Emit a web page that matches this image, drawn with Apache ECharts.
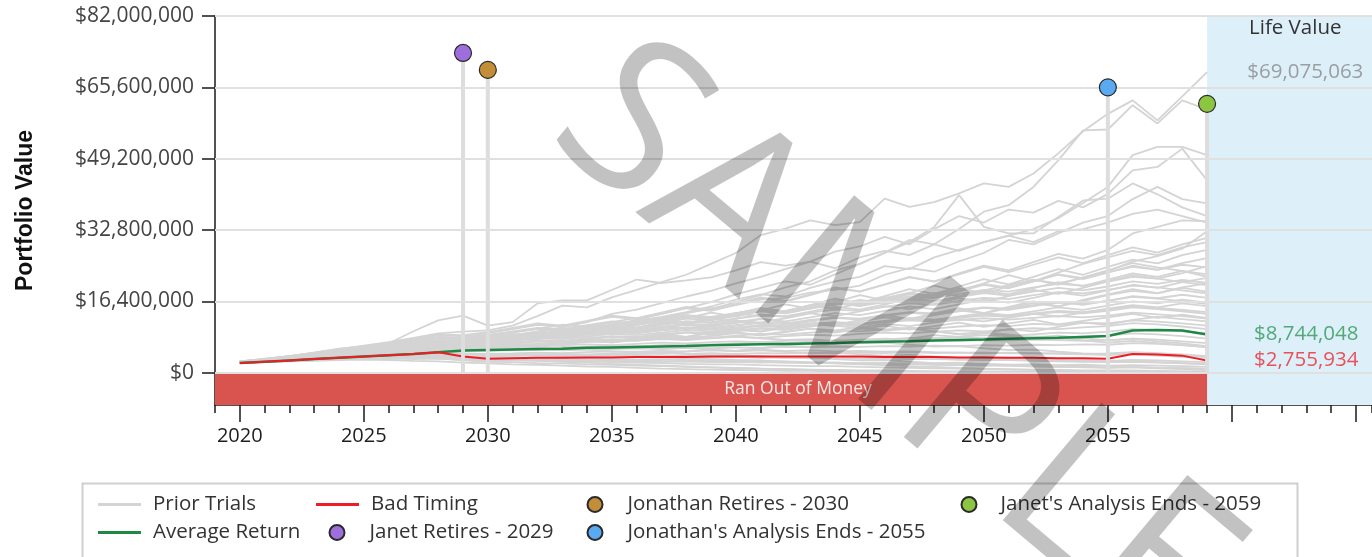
<!DOCTYPE html>
<html>
<head>
<meta charset="utf-8">
<script src="https://cdn.jsdelivr.net/npm/echarts@6/dist/echarts.min.js"></script>
<style>
  html, body { margin: 0; padding: 0; background: #ffffff; }
  #chart { width: 1372px; height: 557px; }
</style>
</head>
<body>
<div id="chart"></div>
<script>
// ---- Data (portfolio values in millions of dollars) ----
const YEARS = [2020,2021,2022,2023,2024,2025,2026,2027,2028,2029,
               2030,2031,2032,2033,2034,2035,2036,2037,2038,2039,
               2040,2041,2042,2043,2044,2045,2046,2047,2048,2049,
               2050,2051,2052,2053,2054,2055,2056,2057,2058,2059];

const Y_TICKS = [0, 16.4, 32.8, 49.2, 65.6, 82];
const X_LABEL_YEARS = [2020, 2025, 2030, 2035, 2040, 2045, 2050, 2055];
const X_MAJOR_TICKS = [2020, 2025, 2030, 2035, 2040, 2045, 2050, 2055, 2060, 2065];

const AVERAGE_RETURN = [2.2,2.5,2.8,3.1,3.4,3.7,4.0,4.3,4.7,5.1,
                        5.2,5.3,5.4,5.5,5.7,5.8,5.9,6.0,6.1,6.3,
                        6.4,6.5,6.6,6.7,6.8,7.0,7.1,7.2,7.4,7.5,
                        7.6,7.8,7.9,8.0,8.2,8.4,9.7,9.8,9.7,8.744048];

const BAD_TIMING = [2.2,2.5,2.8,3.1,3.4,3.7,4.0,4.3,4.7,3.7,
                    3.2,3.3,3.4,3.4,3.5,3.5,3.6,3.6,3.6,3.7,
                    3.7,3.7,3.7,3.7,3.7,3.7,3.6,3.6,3.6,3.5,
                    3.5,3.4,3.4,3.3,3.3,3.2,4.3,4.15,3.9,2.755934];

// Trials that finish far above the rest
const TRIALS_UPPER = [
  [2.4,3.0,3.8,4.6,5.4,6.2,7.0,8.0,9.0,9.4, 9.7,10.8,13.0,15.4,15.0,17.3,19.0,20.8,22.5,25.0, 27.5,31.6,33.1,35.0,33.9,34.6,40.0,38.1,39.2,41.2, 43.5,42.7,45.8,50.4,55.5,59.5,62.6,58.0,63.5,69.075063],
  [2.3,2.6,3.0,3.3,3.7,4.1,4.6,5.0,5.6,6.1, 6.8,7.4,8.0,8.9,9.6,10.5,11.6,12.4,13.8,14.6, 16.2,17.8,19.6,21.0,23.5,25.0,27.6,30.5,29.5,33.0, 37.0,38.5,42.7,48.8,55.7,55.9,61.5,57.3,62.6,60.5],
  [2.4,2.8,3.3,3.9,4.6,5.6,6.7,9.5,12.0,13.1, 10.8,11.6,15.9,16.6,16.6,19.0,21.4,20.6,21.2,21.9, 23.5,25.4,24.6,25.5,27.8,29.0,31.2,29.5,33.0,36.0, 34.5,37.5,36.8,39.5,38.0,41.1,46.5,47.3,51.5,44.2],
  [2.5,2.9,3.3,3.8,4.2,4.8,5.3,5.9,6.4,7.0, 7.6,8.1,8.9,9.6,10.3,11.0,11.9,12.8,13.9,15.2, 16.8,18.0,17.5,19.5,21.0,22.0,24.5,23.8,26.5,28.2, 30.0,31.5,33.0,35.5,39.0,42.7,50.0,51.9,51.9,50.0],
  [2.3,2.7,3.1,3.5,3.9,4.4,4.9,5.5,6.0,6.6, 7.1,7.8,8.5,9.2,10.0,11.0,12.1,13.5,14.8,16.2, 18.0,19.5,21.0,20.2,22.6,25.0,27.5,30.0,33.5,40.8, 33.5,32.0,32.0,35.8,39.6,40.0,43.5,41.0,38.0,36.0],
  [2.5,2.9,3.4,3.9,4.5,5.0,5.6,6.2,6.9,7.3, 7.9,8.6,9.5,10.4,11.6,13.5,14.5,16.0,17.5,18.8, 20.5,22.0,23.8,25.5,24.0,26.5,28.0,27.0,29.5,28.0, 30.0,31.5,30.0,32.5,33.0,34.5,36.5,37.5,36.0,34.5],
  [2.4,2.8,3.2,3.6,4.1,4.6,5.1,5.7,6.3,6.9, 7.4,8.0,8.7,9.3,10.1,10.8,11.7,12.5,13.6,14.8, 15.5,16.8,17.2,18.4,19.0,20.0,22.5,24.0,23.2,25.6, 27.5,30.5,29.5,32.0,34.5,36.0,39.9,42.7,39.9,38.9]
];

// Trials in the main body of the fan
const TRIALS_MAIN = [
  [2.2,2.4,2.6,2.7,2.9,3.0,2.9,2.7,2.6,2.3, 2.1,1.9,1.8,1.6,1.4,1.3,1.1,0.9,0.8,0.7, 0.6,0.5,0.4,0.4,0.3,0.3,0.2,0.2,0.2,0.1, 0.1,0.1,0.1,0.1,0.1,0.1,0.1,0.1,0.1,0.1],
  [2.3,2.5,2.8,3.0,3.1,3.3,3.5,3.4,3.5,3.1, 2.9,2.9,2.7,2.6,2.6,2.4,2.3,2.2,2.0,1.9, 1.9,1.7,1.6,1.5,1.5,1.3,1.2,1.1,1.0,0.9, 0.8,0.7,0.7,0.6,0.5,0.5,0.5,0.4,0.3,0.3],
  [2.3,2.6,2.9,3.2,3.4,3.6,3.8,4.0,4.1,3.7, 3.4,3.5,3.3,3.4,3.2,3.1,3.0,3.1,2.9,2.8, 2.8,2.6,2.6,2.4,2.3,2.2,2.2,2.0,1.9,1.8, 1.7,1.6,1.5,1.4,1.3,1.2,1.3,1.1,1.0,0.8],
  [2.2,2.5,2.7,3.0,3.3,3.5,3.8,3.7,3.9,3.8, 3.7,3.9,4.0,3.8,3.9,4.1,3.9,3.8,3.9,3.7, 3.6,3.7,3.5,3.4,3.5,3.3,3.2,3.3,3.1,3.0, 2.9,2.9,2.7,2.6,2.5,2.4,2.5,2.3,2.1,1.9],
  [2.4,2.6,3.0,3.2,3.6,3.9,4.2,4.5,4.8,4.4, 4.3,4.4,4.6,4.5,4.7,4.9,4.8,5.0,4.9,5.1, 5.0,5.2,5.0,5.1,4.9,5.0,4.8,4.9,4.7,4.6, 4.6,4.4,4.5,4.3,4.2,4.1,4.4,4.2,3.9,3.6],
  [2.3,2.7,3.1,3.5,3.8,4.1,4.5,4.9,5.2,5.0, 5.1,5.4,5.2,5.6,5.9,5.8,6.1,6.0,6.3,6.5, 6.4,6.7,6.6,6.9,7.1,7.0,7.3,7.2,7.4,7.3, 7.5,7.4,7.6,7.5,7.3,7.4,7.8,7.6,7.2,6.8],
  [2.4,2.8,3.3,3.7,4.1,4.4,4.9,5.4,5.9,5.7, 5.9,6.3,6.6,6.5,7.0,7.4,7.3,7.8,8.2,8.0, 8.5,8.9,8.7,9.2,9.6,9.5,9.9,10.3,10.1,10.6, 10.9,10.7,11.2,11.0,11.5,11.3,12.0,11.7,11.3,10.8],
  [2.5,2.9,3.3,3.8,4.3,4.7,5.2,5.8,6.4,6.3, 6.6,7.0,7.4,7.3,7.9,8.4,8.2,8.8,9.3,9.1, 9.7,10.2,10.0,10.7,11.2,11.0,11.6,12.2,11.9,12.6, 13.1,12.8,13.5,13.9,13.6,14.2,15.0,14.6,14.1,13.5],
  [2.3,2.8,3.4,3.9,4.4,4.9,5.5,6.1,6.8,6.7, 7.1,7.6,8.1,8.0,8.7,9.3,9.1,9.8,10.4,10.2, 10.9,11.5,11.3,12.1,12.7,12.4,13.2,13.9,13.6,14.4, 15.0,14.7,15.5,16.1,15.8,16.5,17.4,17.0,16.4,15.8],
  [2.6,3.1,3.7,4.3,4.9,5.4,6.1,6.8,7.5,7.4, 7.9,8.5,9.1,9.0,9.8,10.5,10.3,11.1,11.8,11.6, 12.4,13.1,12.9,13.8,14.5,14.2,15.1,15.9,15.6,16.5, 17.2,16.9,17.8,18.5,18.2,19.0,20.0,19.6,18.9,18.2],
  [2.5,3.1,3.8,4.5,5.1,5.7,6.4,7.2,8.0,8.0, 8.6,9.3,10.0,9.8,10.7,11.5,11.2,12.1,12.9,12.7, 13.6,14.4,14.1,15.1,15.9,15.6,16.6,17.5,17.1,18.1, 19.0,18.6,19.6,20.4,20.0,20.9,22.0,21.6,20.8,20.1],
  [2.4,3.0,3.6,4.2,4.8,5.3,5.9,6.5,7.2,7.0, 7.5,8.2,8.9,9.7,9.3,10.2,11.0,11.9,11.4,12.4, 13.2,14.2,13.6,14.7,15.6,16.7,16.0,17.2,18.3,17.6, 18.9,20.1,21.3,20.5,21.8,23.1,24.3,23.6,24.8,24.2],
  [2.3,2.6,3.2,3.0,3.6,4.2,4.0,4.7,5.4,5.0, 5.8,6.4,5.9,6.8,7.6,7.0,8.0,8.9,8.2,9.3, 10.3,9.5,10.7,11.8,10.9,12.1,13.3,12.3,13.6,14.8, 13.7,15.1,16.4,15.2,16.7,18.0,19.2,18.3,19.6,20.5],
  [2.5,3.0,3.7,4.5,4.2,5.1,6.0,5.6,6.7,7.4, 7.0,8.1,9.2,8.6,9.8,11.0,10.3,11.6,12.9,12.1, 13.5,14.9,14.0,15.5,17.0,16.0,17.6,19.2,18.1,19.8, 21.5,20.3,22.0,23.8,22.5,24.3,26.0,25.1,27.0,28.2],
  [2.4,2.9,3.5,4.1,4.8,5.5,5.1,5.9,6.8,7.7, 7.2,8.2,9.2,10.3,9.6,10.8,12.0,11.2,12.5,13.8, 12.9,14.3,15.7,14.7,16.2,17.8,16.6,18.3,20.0,18.7, 20.5,22.4,21.0,23.0,25.0,26.5,28.0,27.0,28.8,30.0],
  [2.3,2.8,3.4,4.0,4.7,5.4,6.2,7.0,7.9,7.7, 8.3,9.2,10.1,11.0,10.5,11.6,12.6,12.0,13.1,12.5, 11.6,12.4,11.5,10.7,11.4,10.5,9.8,10.3,9.5,8.8, 9.2,8.4,7.8,8.1,7.4,6.9,7.3,6.8,6.3,5.8],
  [2.4,2.7,3.0,3.3,3.6,3.4,3.2,3.5,3.3,3.1, 2.9,3.2,3.5,3.3,3.7,4.1,4.5,4.3,4.8,5.3, 5.0,5.6,6.2,5.9,6.6,7.3,7.0,7.8,8.6,8.2, 9.1,10.0,9.5,10.5,11.5,11.0,12.1,12.8,12.3,11.8],
  [2.3,2.6,3.0,3.4,3.9,4.3,4.8,5.3,5.8,5.6, 6.0,6.6,6.3,6.9,7.5,7.2,7.9,8.6,8.2,9.0, 9.8,9.4,10.3,11.2,10.7,11.7,12.7,12.1,13.2,14.3, 13.6,14.8,16.0,15.2,16.5,17.8,18.8,18.2,19.5,18.6],
  [2.4,2.8,3.3,3.8,4.2,4.6,5.1,5.6,6.2,5.9, 6.3,6.0,6.5,6.1,5.8,6.2,5.8,5.4,5.7,5.3, 4.9,5.2,4.8,4.4,4.6,4.2,3.9,4.1,3.7,3.4, 3.5,3.2,2.9,3.0,2.7,2.5,2.6,2.4,2.2,2.0],
  [2.5,3.0,3.5,4.1,4.7,5.3,5.9,6.6,7.3,7.1, 7.6,8.3,9.0,8.7,9.5,10.4,10.0,10.9,11.8,11.4, 12.4,13.4,12.9,14.0,15.1,14.5,15.7,16.9,16.2,17.5, 18.8,18.0,19.4,20.8,19.9,21.4,22.8,22.0,23.4,22.6],
  [2.2,2.6,3.1,3.6,4.0,4.5,5.0,5.5,6.1,5.9, 6.2,6.8,7.3,7.0,7.6,8.2,7.9,8.5,9.2,8.8, 9.5,10.2,9.8,10.6,11.3,10.9,11.7,12.5,12.0,12.9, 13.7,13.2,14.1,15.0,14.4,15.4,16.4,15.9,16.8,16.1],
  [2.6,3.1,3.8,4.6,5.5,6.0,6.9,7.8,8.8,8.6, 9.3,10.3,11.3,10.8,11.9,13.1,12.5,13.8,15.1,14.4, 15.8,17.3,16.5,18.0,19.6,18.7,20.3,22.0,20.9,22.6, 24.3,23.1,24.8,26.5,25.2,27.0,28.8,27.6,29.5,31.0],
  [2.3,2.7,3.1,3.5,4.0,4.4,4.9,5.4,5.9,5.7, 6.0,6.5,6.2,6.7,7.3,7.0,7.6,8.2,7.8,8.4, 9.1,8.7,9.4,10.1,9.7,10.4,11.2,10.7,11.5,12.3, 11.8,12.6,13.5,12.9,13.8,14.7,15.5,15.0,15.9,15.3],
  [2.4,2.9,3.4,4.0,4.6,5.1,5.8,6.5,7.2,7.0, 7.5,8.2,8.9,8.6,9.3,10.1,9.7,10.5,11.3,10.9, 11.7,11.2,10.6,11.3,10.8,10.2,9.6,10.1,9.5,8.9, 9.3,8.7,8.1,8.5,7.9,7.4,7.8,7.2,6.7,6.1],
  [2.5,2.9,3.4,3.9,4.5,5.0,5.6,6.3,7.0,6.8, 7.3,8.0,7.7,8.4,9.2,8.8,9.6,10.5,10.1,11.0, 12.0,11.5,12.5,13.6,13.0,14.1,15.3,14.6,15.8,17.1, 16.3,17.6,19.0,18.1,19.5,21.0,22.4,21.6,22.9,24.5],
  [2.2,2.4,2.7,2.9,3.1,3.3,3.2,3.4,3.3,3.0, 2.8,2.9,2.8,2.7,2.8,2.6,2.7,2.5,2.6,2.4, 2.5,2.3,2.4,2.2,2.3,2.1,2.2,2.0,2.1,1.9, 2.0,1.8,1.9,1.7,1.8,1.6,1.7,1.6,1.5,1.3],
  [2.3,2.5,2.8,3.1,3.5,3.8,4.1,4.4,4.7,4.3, 4.1,4.3,4.1,4.3,4.2,4.4,4.2,4.4,4.3,4.5, 4.3,4.5,4.4,4.6,4.4,4.6,4.5,4.7,4.5,4.6, 4.4,4.6,4.4,4.5,4.3,4.4,4.7,4.5,4.2,3.8],
  [2.3,2.6,2.9,3.2,3.4,3.7,3.9,3.8,3.9,3.5, 3.2,3.0,2.8,2.5,2.3,2.0,1.8,1.6,1.4,1.2, 1.0,0.9,0.8,0.6,0.5,0.4,0.4,0.3,0.2,0.2, 0.2,0.1,0.1,0.1,0.1,0.1,0.1,0.1,0.1,0.1],
  [2.4,2.8,3.2,3.6,4.0,4.4,4.8,5.2,5.7,5.4, 5.3,5.5,5.8,5.6,5.9,6.2,6.0,6.3,6.6,6.4, 6.7,7.0,6.8,7.1,7.4,7.2,7.6,8.0,7.8,8.2, 8.6,8.4,8.8,9.2,9.0,9.4,10.0,9.8,9.5,9.0],
  [2.5,3.0,3.6,4.2,4.8,5.2,5.8,6.4,7.1,6.9, 7.3,7.9,8.6,8.3,9.0,9.8,9.4,10.2,11.0,10.6, 11.4,12.3,11.8,12.7,13.7,13.2,14.2,15.2,14.6,15.7, 16.8,16.1,17.2,18.4,17.7,18.9,20.2,19.5,20.8,21.8],
  [2.4,2.8,3.3,3.8,4.3,4.8,5.3,5.9,6.5,6.4, 6.8,7.3,7.9,7.7,8.3,8.9,8.6,9.2,9.8,9.5, 10.1,10.7,10.4,11.0,11.6,11.3,11.9,12.5,12.2,12.8, 13.4,13.0,13.6,14.2,13.9,14.5,15.3,14.9,14.4,13.9],
  [2.3,2.6,3.0,3.3,3.6,3.9,4.2,4.5,4.8,4.4, 4.2,4.3,4.1,4.0,3.8,3.9,3.6,3.5,3.3,3.1, 2.9,2.8,2.5,2.3,2.1,1.9,1.7,1.5,1.3,1.1, 0.9,0.8,0.6,0.5,0.4,0.3,0.3,0.2,0.2,0.1],
  [2.5,3.0,3.6,4.3,5.1,5.8,6.7,7.6,8.6,8.4, 9.1,10.0,11.0,10.6,11.7,12.8,12.3,13.5,14.8,14.2, 15.6,17.0,16.3,17.8,19.4,18.6,20.2,21.9,21.0,22.8, 24.6,23.5,25.4,27.3,26.2,28.2,32.0,33.5,35.0,34.8],
  [2.4,2.8,3.3,3.9,4.5,5.1,5.8,6.5,7.3,7.1, 7.7,8.4,9.2,9.0,9.9,10.8,10.4,11.4,12.4,12.0, 13.0,14.1,13.6,14.8,16.0,15.4,16.7,18.0,17.3,18.7, 20.2,19.4,21.0,22.6,21.7,23.4,25.5,26.8,28.5,32.5],
  [2.3,2.5,2.8,3.0,3.2,3.4,3.3,3.1,3.2,2.8, 2.5,2.4,2.2,2.1,1.9,1.8,1.6,1.5,1.3,1.2, 1.1,0.9,0.8,0.7,0.6,0.5,0.5,0.4,0.3,0.3, 0.2,0.2,0.2,0.1,0.1,0.1,0.1,0.1,0.1,0.1],
  [2.2,2.5,2.7,3.0,3.2,3.5,3.6,3.8,3.7,3.3, 3.1,3.2,3.0,3.1,2.9,2.8,2.9,2.7,2.6,2.6, 2.4,2.5,2.3,2.2,2.2,2.0,1.9,2.0,1.8,1.7, 1.6,1.6,1.4,1.3,1.3,1.2,1.3,1.1,1.0,0.9],
  [2.4,2.7,3.0,3.3,3.7,4.0,4.2,4.4,4.6,4.2, 4.0,3.9,4.0,3.8,3.9,3.7,3.8,3.6,3.7,3.5, 3.6,3.4,3.5,3.3,3.4,3.2,3.3,3.1,3.2,3.0, 3.1,2.9,3.0,2.8,2.9,2.7,2.9,2.8,2.6,2.4],
  [2.3,2.7,3.1,3.5,3.9,4.3,4.7,5.1,5.5,5.2, 5.0,5.2,5.4,5.3,5.5,5.4,5.6,5.5,5.7,5.6, 5.8,5.7,5.9,5.8,6.0,5.9,6.1,6.0,6.2,6.1, 6.3,6.2,6.4,6.3,6.5,6.4,6.8,6.6,6.3,5.9],
  [2.5,2.9,3.4,3.8,4.3,4.8,5.2,5.7,6.2,6.0, 6.2,6.6,6.4,6.9,7.2,7.0,7.4,7.7,7.5,7.9, 8.2,8.0,8.4,8.7,8.5,8.9,9.2,9.0,9.4,9.7, 9.5,9.9,10.2,10.0,10.4,10.7,11.4,11.1,10.6,10.0],
  [2.4,2.8,3.3,3.7,4.2,4.7,5.2,5.7,6.2,6.0, 6.3,6.7,7.1,6.9,7.3,7.7,7.5,7.9,8.2,8.0, 8.3,7.9,7.5,7.7,7.2,6.8,6.9,6.4,6.0,6.1, 5.6,5.2,5.3,4.8,4.4,4.1,4.3,3.9,3.6,3.2],
  [2.5,3.0,3.5,4.0,4.6,5.1,5.7,6.3,7.0,6.8, 7.2,7.8,8.4,8.1,8.8,9.4,9.1,9.8,10.4,10.1, 10.8,11.5,11.1,11.9,12.6,12.2,13.0,13.8,13.3,14.1, 14.9,14.4,15.3,16.2,15.6,16.5,17.6,17.1,17.9,17.2],
  [2.4,3.0,3.6,4.3,5.0,5.6,6.4,7.2,8.1,7.9, 8.5,9.3,10.1,9.7,10.6,11.5,11.0,12.0,13.0,12.5, 13.6,14.7,14.1,15.3,16.5,15.8,17.1,18.4,17.6,19.0, 20.4,19.5,21.0,22.5,21.5,23.0,24.6,23.7,25.2,26.3],
  [2.3,2.7,3.3,3.1,3.7,4.3,4.1,4.8,5.5,5.1, 5.8,6.5,6.0,6.8,7.5,6.9,7.7,8.4,7.7,8.5, 9.3,8.5,9.3,10.1,9.2,10.0,10.8,9.9,10.7,11.5, 10.5,11.3,12.1,11.1,11.9,12.7,13.5,12.6,13.3,12.5],
  [2.6,3.2,3.8,4.5,5.2,5.9,6.6,7.4,8.2,8.1, 8.7,9.5,10.3,10.0,10.9,11.8,11.4,12.3,13.2,12.8, 13.7,14.6,14.1,15.0,15.9,15.3,16.2,17.1,16.5,17.4, 18.3,17.7,18.6,19.5,18.9,19.8,21.0,20.4,21.3,20.6],
  [2.5,2.9,3.4,3.9,4.4,4.9,5.4,5.9,6.4,5.9, 5.6,5.8,5.4,5.1,5.3,4.9,4.6,4.7,4.3,4.0, 4.1,3.7,3.4,3.5,3.1,2.8,2.9,2.5,2.2,2.3, 1.9,1.7,1.8,1.4,1.2,1.1,1.2,1.0,0.8,0.6],
  [2.4,2.9,3.4,4.0,4.6,5.2,5.9,6.6,7.3,7.1, 7.5,8.1,8.6,8.4,8.9,9.5,9.2,9.7,10.2,9.9, 10.4,10.9,10.6,11.0,11.5,11.2,11.6,12.0,11.7,12.1, 12.5,12.2,12.6,13.0,12.7,13.1,13.8,13.4,13.0,12.4],
  [2.3,2.7,3.1,3.6,4.0,4.5,4.9,5.4,5.9,5.7, 5.9,6.2,6.0,6.3,6.5,6.3,6.6,6.9,6.7,7.0, 7.2,7.0,7.3,7.5,7.3,7.6,7.8,7.6,7.9,8.1, 7.9,8.1,8.3,8.1,8.3,8.5,9.0,8.8,8.4,7.8],
  [2.5,3.1,3.7,4.4,5.1,4.8,5.6,6.5,7.4,7.2, 8.0,8.9,8.4,9.4,10.4,9.8,10.9,12.0,11.3,12.5, 13.7,12.9,14.2,15.5,14.6,16.0,17.4,16.4,17.9,19.4, 18.2,19.8,21.4,20.2,21.9,23.5,25.2,24.2,23.4,22.0]
];

// Milestones: [name, year, marker height (millions), colour]
const MILESTONES = [
  ['Janet Retires - 2029', 2029, 73.5, '#9e6fdc'],
  ['Jonathan Retires - 2030', 2030, 69.6, '#c48d38'],
  ["Jonathan's Analysis Ends - 2055", 2055, 65.6, '#5aaaf2'],
  ["Janet's Analysis Ends - 2059", 2059, 61.8, '#8cc540']
];

// ---- Layout constants ----
const X_MIN = 2019, X_MAX = 2065.65;
const Y_MIN = -7.45, Y_MAX = 82;
const LIFE_START = 2059;
const FONT = '"Open Sans", "Noto Sans", sans-serif';

const money = v => '$' + Math.round(v * 1e6).toLocaleString('en-US');
const pairs = arr => arr.map((v, i) => [YEARS[i], v]);

const series = [];

// Light blue "Life Value" panel
series.push({
  type: 'line', name: 'panel', data: [], z: 0, silent: true,
  markArea: {
    silent: true,
    itemStyle: { color: '#ddf0fa' },
    data: [[{ xAxis: LIFE_START, yAxis: Y_MIN }, { xAxis: X_MAX, yAxis: Y_MAX }]]
  }
});

// Horizontal grid lines
series.push({
  type: 'line', name: 'grid', data: [], z: 1, silent: true,
  markLine: {
    silent: true, symbol: 'none', label: { show: false },
    lineStyle: { color: '#e0e0e0', width: 2, type: 'solid' },
    data: Y_TICKS.map(v => ({ yAxis: v }))
  }
});

// Prior trials
TRIALS_MAIN.concat(TRIALS_UPPER).forEach(t => {
  series.push({
    type: 'line', name: 'Prior Trials', data: pairs(t), z: 2,
    symbol: 'none', silent: true,
    itemStyle: { color: '#d4d4d4' },
    lineStyle: { color: '#d4d4d4', width: 1.8 }
  });
});

// Ran-out-of-money band
series.push({
  type: 'line', name: 'band', data: [], z: 2.5, silent: true,
  markArea: {
    silent: true,
    itemStyle: { color: '#d9534f' },
    label: {
      show: true, position: 'inside', offset: [87, 0], formatter: 'Ran Out of Money',
      color: '#f8e6e5', fontSize: 17.5, fontFamily: FONT
    },
    data: [[{ xAxis: X_MIN, yAxis: Y_MIN }, { xAxis: LIFE_START, yAxis: 0 }]]
  }
});

series.push({
  type: 'line', name: 'Average Return', data: pairs(AVERAGE_RETURN), z: 3,
  symbol: 'none', itemStyle: { color: '#1e8844' },
  lineStyle: { color: '#1e8844', width: 2.5 }
});
series.push({
  type: 'line', name: 'Bad Timing', data: pairs(BAD_TIMING), z: 3.1,
  symbol: 'none', itemStyle: { color: '#ee1c25' },
  lineStyle: { color: '#ee1c25', width: 2 }
});

// Milestone stems and markers
MILESTONES.forEach(([name, year, h, color]) => {
  series.push({
    type: 'line', name: name + ' stem', data: [[year, 0], [year, h]], z: 4,
    symbol: 'none', silent: true,
    lineStyle: { color: '#dddddd', width: 4 }
  });
  series.push({
    type: 'scatter', name: name, data: [[year, h]], z: 5,
    symbolSize: 17,
    itemStyle: { color: color, borderColor: '#2a2a2a', borderWidth: 1.2, opacity: 1 }
  });
});

// End-of-life values in the panel
const TOP_TRIAL_END = TRIALS_UPPER[0][TRIALS_UPPER[0].length - 1];
const AVG_END = AVERAGE_RETURN[AVERAGE_RETURN.length - 1];
const BAD_END = BAD_TIMING[BAD_TIMING.length - 1];
series.push({
  type: 'scatter', name: 'life values', z: 5, silent: true,
  symbolSize: 0,
  label: {
    show: true, position: 'left', distance: 0, fontSize: 20.5, fontFamily: FONT,
    formatter: p => money(p.value[1])
  },
  data: [
    { value: [2065.3, TOP_TRIAL_END], label: { color: '#8a8a8a' } },
    { value: [2065.1, AVG_END], label: { color: '#2f9656' } },
    { value: [2065.1, BAD_END], label: { color: '#ec2830' } }
  ]
});

// Legend entries, each placed on its own
function legendItem(name, left, top, icon, w, h, pad) {
  return {
    data: [{ name: name, icon: icon }],
    left: left, top: top, padding: 0,
    itemWidth: w, itemHeight: h, selectedMode: false,
    textStyle: { fontSize: 20.5, color: '#333333', fontFamily: FONT, padding: [0, 0, 0, pad] }
  };
}
const ROW1 = 494, ROW2 = 522;
const legends = [
  legendItem('Prior Trials', 98, ROW1, 'rect', 43, 3, 7),
  legendItem('Average Return', 98, ROW2, 'rect', 43, 3, 7),
  legendItem('Bad Timing', 316, ROW1, 'rect', 43, 3, 7),
  legendItem('Janet Retires - 2029', 328.5, ROW2, 'circle', 15, 15, 20),
  legendItem('Jonathan Retires - 2030', 586.5, ROW1, 'circle', 15, 15, 20),
  legendItem("Jonathan's Analysis Ends - 2055", 586.5, ROW2, 'circle', 15, 15, 20),
  legendItem("Janet's Analysis Ends - 2059", 960.5, ROW1, 'circle', 15, 15, 19)
];

const option = {
  animation: false,
  backgroundColor: '#ffffff',
  textStyle: { fontFamily: FONT },
  grid: { left: 215, right: 0, top: 16, bottom: 152, containLabel: false },
  legend: legends,
  xAxis: [
    {
      type: 'value', min: X_MIN, max: X_MAX, interval: 1,
      axisLine: { show: true, onZero: false, lineStyle: { color: '#1a1a1a', width: 1.5 } },
      axisTick: { show: true, length: 8, lineStyle: { color: '#1a1a1a', width: 1.5 } },
      axisLabel: { show: false },
      splitLine: { show: false }
    },
    {
      type: 'value', min: X_MIN, max: X_MAX, position: 'bottom',
      axisLine: { show: false, onZero: false },
      axisTick: { show: true, length: 17, customValues: X_MAJOR_TICKS, lineStyle: { color: '#1a1a1a', width: 1.5 } },
      axisLabel: {
        show: true, customValues: X_LABEL_YEARS, margin: 21,
        fontSize: 20, color: '#1e1e1e', fontFamily: FONT,
        formatter: v => String(v)
      },
      splitLine: { show: false }
    }
  ],
  yAxis: {
    type: 'value', min: Y_MIN, max: Y_MAX,
    name: 'Portfolio Value', nameLocation: 'middle', nameRotate: 90, nameGap: 178,
    nameTextStyle: { fontSize: 23, fontWeight: 'bold', color: '#111111', fontFamily: '"Liberation Sans", Arial, sans-serif' },
    axisLine: { show: true, onZero: false, lineStyle: { color: '#1a1a1a', width: 1.5 } },
    axisTick: { show: true, length: 13, customValues: Y_TICKS, lineStyle: { color: '#1a1a1a', width: 1.5 } },
    axisLabel: {
      show: true, customValues: Y_TICKS, margin: 21,
      fontSize: 21, color: '#444444', fontFamily: FONT,
      formatter: v => money(v)
    },
    splitLine: { show: false }
  },
  graphic: [
    {
      type: 'text', left: 1249, top: 18, z: 10,
      style: { text: 'Life Value', font: '20.5px ' + FONT, fill: '#333333' }
    },
    {
      type: 'rect', left: 80, top: 481, z: 10, silent: true,
      shape: { width: 1215, height: 120 },
      style: { fill: 'none', stroke: '#cfcfcf', lineWidth: 2 }
    },
    {
      type: 'text', x: 894, y: 349, rotation: -40 * Math.PI / 180, z: 100, silent: true,
      style: {
        text: 'SAMPLE', font: '215px ' + FONT, fill: 'rgba(0,0,0,0.24)',
        align: 'center', verticalAlign: 'middle'
      }
    }
  ],
  series: series
};

const chart = echarts.init(document.getElementById('chart'), null, { renderer: 'canvas' });
chart.setOption(option);
</script>
</body>
</html>
